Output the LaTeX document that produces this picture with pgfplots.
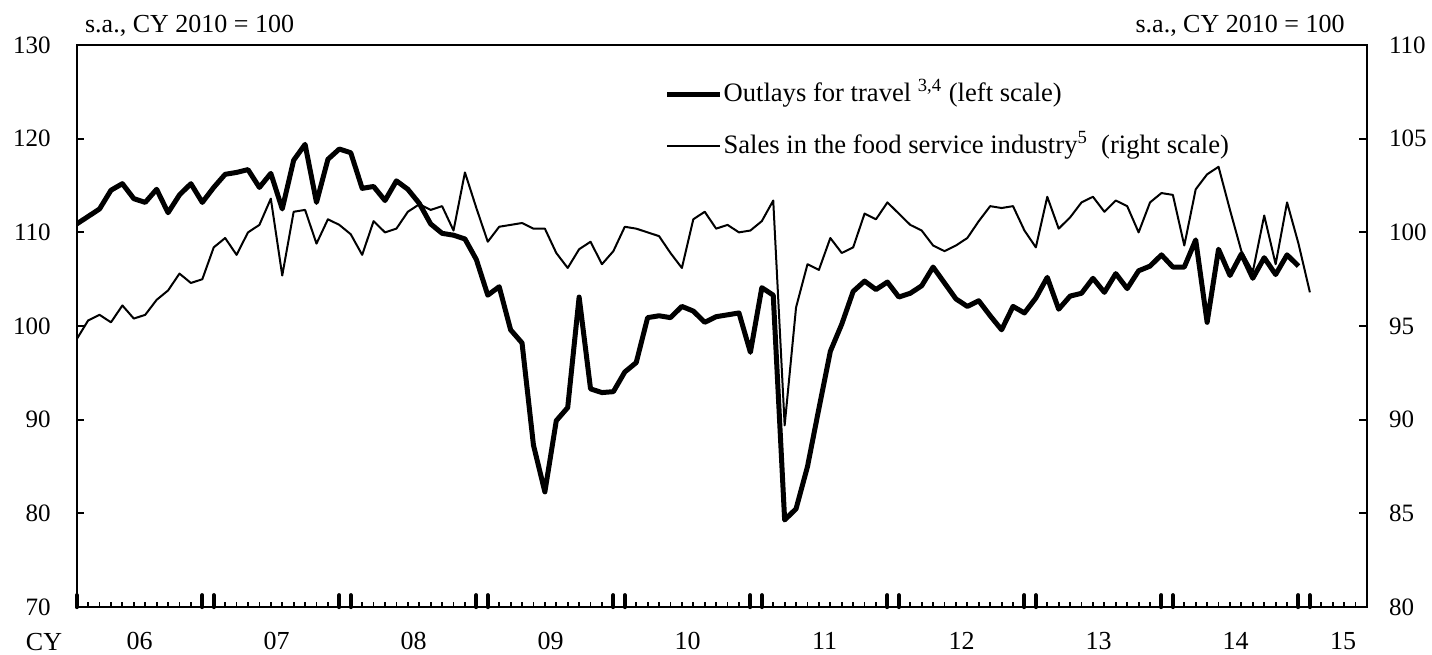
\documentclass[border=0pt]{standalone}
\usepackage{fontspec}
\setmainfont{Liberation Serif}
\usepackage{pgfplots}
\usepackage{pgfplotstable}
\pgfplotsset{compat=1.18}

\pgfplotstableread{
i v
0 110.9
1 111.7
2 112.5
3 114.5
4 115.2
5 113.6
6 113.2
7 114.6
8 112.1
9 114.0
10 115.2
11 113.2
12 114.8
13 116.2
14 116.4
15 116.7
16 114.8
17 116.3
18 112.5
19 117.7
20 119.4
21 113.2
22 117.8
23 118.9
24 118.5
25 114.7
26 114.9
27 113.4
28 115.5
29 114.6
30 113.1
31 110.9
32 109.9
33 109.7
34 109.3
35 107.1
36 103.3
37 104.2
38 99.6
39 98.2
40 87.3
41 82.3
42 89.9
43 91.3
44 103.1
45 93.3
46 92.9
47 93.0
48 95.1
49 96.1
50 100.9
51 101.1
52 100.9
53 102.1
54 101.6
55 100.4
56 101.0
57 101.2
58 101.4
59 97.2
60 104.1
61 103.3
62 79.3
63 80.5
64 85.0
65 91.2
66 97.3
67 100.2
68 103.7
69 104.8
70 103.9
71 104.7
72 103.1
73 103.5
74 104.3
75 106.3
76 104.6
77 102.9
78 102.1
79 102.7
80 101.1
81 99.6
82 102.1
83 101.4
84 103.0
85 105.2
86 101.8
87 103.2
88 103.5
89 105.1
90 103.6
91 105.6
92 104.0
93 105.9
94 106.4
95 107.6
96 106.3
97 106.3
98 109.2
99 100.4
100 108.2
101 105.4
102 107.7
103 105.1
104 107.3
105 105.5
106 107.6
107 106.4
}\travel

\pgfplotstableread{
i v
0 94.3
1 95.3
2 95.6
3 95.2
4 96.1
5 95.4
6 95.6
7 96.4
8 96.9
9 97.8
10 97.3
11 97.5
12 99.2
13 99.7
14 98.8
15 100.0
16 100.4
17 101.8
18 97.7
19 101.1
20 101.2
21 99.4
22 100.7
23 100.4
24 99.9
25 98.8
26 100.6
27 100.0
28 100.2
29 101.1
30 101.5
31 101.2
32 101.4
33 100.1
34 103.2
35 101.3
36 99.5
37 100.3
38 100.4
39 100.5
40 100.2
41 100.2
42 98.9
43 98.1
44 99.1
45 99.5
46 98.3
47 99.0
48 100.3
49 100.2
50 100.0
51 99.8
52 98.9
53 98.1
54 100.7
55 101.1
56 100.2
57 100.4
58 100.0
59 100.1
60 100.6
61 101.7
62 89.7
63 96.0
64 98.3
65 98.0
66 99.7
67 98.9
68 99.2
69 101.0
70 100.7
71 101.6
72 101.0
73 100.4
74 100.1
75 99.3
76 99.0
77 99.3
78 99.7
79 100.6
80 101.4
81 101.3
82 101.4
83 100.1
84 99.2
85 101.9
86 100.2
87 100.8
88 101.6
89 101.9
90 101.1
91 101.7
92 101.4
93 100.0
94 101.6
95 102.1
96 102.0
97 99.3
98 102.3
99 103.1
100 103.5
101 101.2
102 99.0
103 97.9
104 100.9
105 98.3
106 101.6
107 99.4
108 96.8
}\food

\begin{document}
\begin{tikzpicture}[font=\fontsize{12.5}{15}\selectfont]
\useasboundingbox (-38.35pt,-23.5pt) rectangle (677.5pt,303.5pt);
\pgfplotsset{base/.style={
  at={(0pt,0pt)}, anchor=south west, scale only axis,
  width=645pt, height=281pt, xmin=0, xmax=113,
  axis line style={line width=1pt},
  tick align=inside,
  /pgf/number format/assume math mode=true,
  tick label style={font=\fontsize{12.5}{15}\selectfont},
}}

% left scale: travel
\begin{axis}[base, ymin=70, ymax=130, ytick={70,80,...,130}, ytick pos=left,
  major tick length=0pt, xtick=\empty,
  yticklabel style={xshift=-9.5pt}]
\addplot[black, line width=2.5pt, line join=round] table[x=i,y=v] {\travel};
\end{axis}

% right scale: food service
\begin{axis}[base, ymin=80, ymax=110, ytick={80,85,...,110}, ytick pos=right,
  yticklabel pos=right, major tick length=0pt,
  xtick=\empty, yticklabel style={xshift=7.5pt},
  legend cell align=left,
  legend image code/.code={\draw[#1] (0pt,0pt) -- (26.5pt,0pt);},
  legend style={at={(0.4553,0.939)}, anchor=north west, draw=none, fill=none,
    inner sep=0pt, row sep=11.5pt, font=\fontsize{13.3}{15}\selectfont,
    nodes={inner sep=0.5pt, text height=10.5pt, text depth=3pt}}]
\addlegendimage{black, line width=2.5pt}
\addlegendentry{Outlays for travel \textsuperscript{3,4} (left scale)}
\addplot[black, line width=1pt, line join=round] table[x=i,y=v] {\food};
\addlegendentry{Sales in the food service industry\textsuperscript{5}\ \ (right scale)}
\end{axis}

% left y ticks
\begin{axis}[base, ymin=70, ymax=130, hide x axis, y axis line style={draw=none},
  ytick pos=left, ytick={70,80,...,130}, yticklabels={},
  major tick length=3.5pt, tick style={black, line width=1pt}]
\end{axis}

% right y ticks
\begin{axis}[base, ymin=80, ymax=110, hide x axis, y axis line style={draw=none},
  ytick pos=right, ytick={80,85,...,110}, yticklabels={},
  major tick length=4pt, tick style={black, line width=1pt}]
\end{axis}

% monthly ticks
\begin{axis}[base, ymin=0, ymax=1, hide y axis, x axis line style={draw=none},
  xtick pos=bottom, xtick={1,...,113}, xticklabels={},
  major tick length=2.6pt, tick style={black, line width=0.9pt}]
\end{axis}

% bold year-boundary ticks
\begin{axis}[base, ymin=0, ymax=1, hide y axis, x axis line style={draw=none},
  xtick pos=bottom,
  xtick={0,11,12,23,24,35,36,47,48,59,60,71,72,83,84,95,96,107,108},
  xticklabels={}, major tick length=6pt,
  tick style={black, line width=2pt, line cap=round}]
\end{axis}

% year labels
\begin{axis}[base, ymin=0, ymax=1, hide y axis, x axis line style={draw=none},
  xtick pos=bottom,
  xtick={5.5,17.5,29.5,41.5,53.5,65.5,77.5,89.5,101.5,110.9},
  xticklabels={06,07,08,09,10,11,12,13,14,15},
  major tick length=0pt, tick style={draw=none},
  xticklabel style={anchor=center, inner sep=0pt, yshift=-17pt,
    font=\fontsize{13}{15}\selectfont}]
\end{axis}

\node[anchor=center, inner sep=0pt, font=\fontsize{13}{15}\selectfont] at (-16.35pt,-17.5pt) {CY};
\node[anchor=base west, inner sep=0pt, font=\fontsize{13}{15}\selectfont] at (4pt,287.5pt) {s.a., CY 2010 = 100};
\node[anchor=base east, inner sep=0pt, font=\fontsize{13}{15}\selectfont] at (634pt,287.5pt) {s.a., CY 2010 = 100};
\end{tikzpicture}
\end{document}
